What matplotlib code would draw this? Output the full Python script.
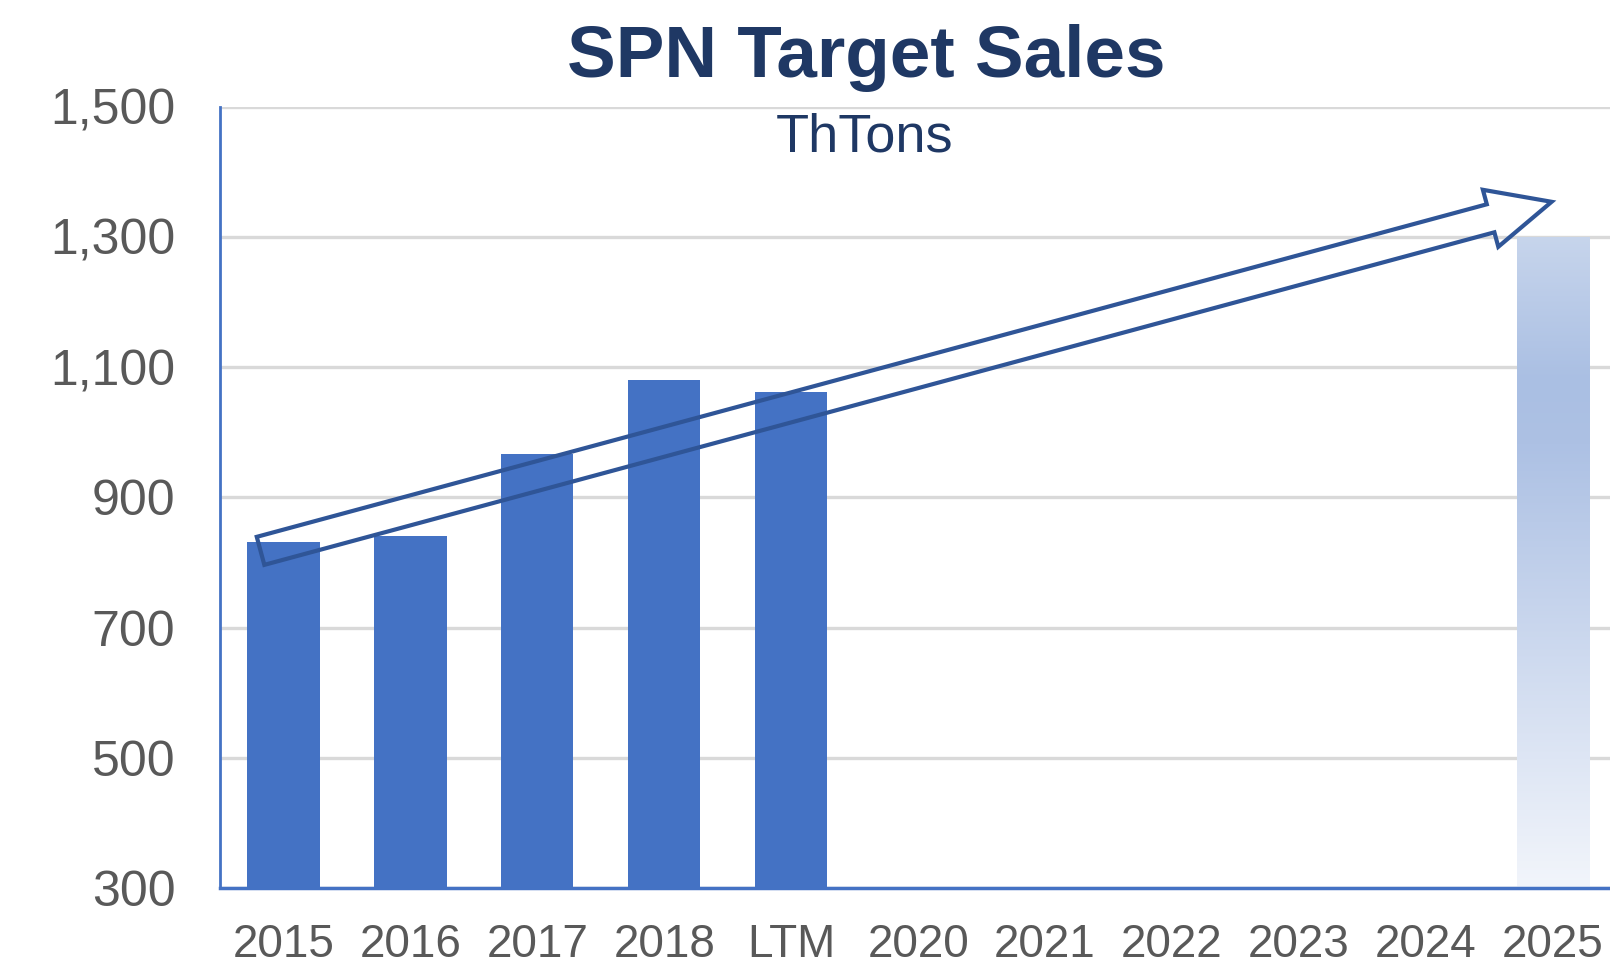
import numpy as np
import matplotlib
matplotlib.use("Agg")
import matplotlib.pyplot as plt
from matplotlib.colors import LinearSegmentedColormap
from matplotlib.patches import FancyArrowPatch, ArrowStyle

plt.rcParams['font.family'] = ['Liberation Sans', 'DejaVu Sans']

# data (ThTons)
categories = ["2015", "2016", "2017", "2018", "LTM", "2020", "2021", "2022", "2023", "2024", "2025"]
actual_values = [831, 841, 966, 1081, 1062]
target_category = "2025"
target_value = 1300
y_ticks = [300, 500, 700, 900, 1100, 1300, 1500]

# trend arrow end points (category index, value)
arrow_start = (-0.18, 818)
arrow_end = (9.99, 1354)

bar_blue = "#4472C4"
navy = "#1F3864"
arrow_blue = "#2F5597"
grid_grey = "#D9D9D9"
label_grey = "#595959"

fig = plt.figure(figsize=(16.1, 9.65), dpi=100)
ax = fig.add_axes([0.1366, 0.0796, 0.8634, 0.8098])

x = np.arange(len(categories))
bar_w = 0.57

ax.bar(x[:len(actual_values)], np.array(actual_values) - 300, bottom=300,
       width=bar_w, color=bar_blue, zorder=2)

# 2025 target bar with vertical gradient
ti = categories.index(target_category)
tbar = ax.bar([ti], [target_value - 300], bottom=300, width=bar_w,
              color="none", zorder=2)[0]
grad_cmap = LinearSegmentedColormap.from_list(
    "target", [(0.0, "#C7D5EC"), (0.22, "#AABFE3"), (0.32, "#ADC1E4"), (1.0, "#F2F5FB")])
grad = np.linspace(0, 1, 256).reshape(-1, 1)
im = ax.imshow(grad, cmap=grad_cmap, aspect="auto", origin="upper",
               extent=[ti - bar_w / 2, ti + bar_w / 2, 300, target_value],
               zorder=2, interpolation="bicubic")
im.set_clip_path(tbar)

# trend arrow (outline only)
style = ArrowStyle.Simple(head_length=45.5, head_width=42.5, tail_width=20.9)
arrow = FancyArrowPatch(arrow_start, arrow_end, arrowstyle=style, mutation_scale=1,
                        shrinkA=0, shrinkB=0, facecolor="none", edgecolor=arrow_blue,
                        lw=3.0, joinstyle="miter", zorder=4, clip_on=False)
ax.add_patch(arrow)

ax.set_xlim(-0.5, 10.45)
ax.set_ylim(300, 1500)
ax.set_xticks(x)
ax.set_xticklabels(categories)
ax.set_yticks(y_ticks)
ax.set_yticklabels([f"{v:,}" for v in y_ticks])
ax.tick_params(axis="x", length=0, pad=25, labelsize=33, labelcolor=label_grey)
ax.tick_params(axis="y", length=0, pad=32, labelsize=36, labelcolor=label_grey)

ax.grid(axis="y", color=grid_grey, lw=2.4, zorder=0)
ax.set_axisbelow(True)
for s in ["top", "right"]:
    ax.spines[s].set_visible(False)
ax.spines["left"].set_color(bar_blue)
ax.spines["left"].set_linewidth(2)
ax.spines["bottom"].set_color(bar_blue)
ax.spines["bottom"].set_linewidth(2.5)
ax.spines["bottom"].set_zorder(3)

fig.text(0.538, 0.920, "SPN Target Sales", ha="center", va="baseline",
         fontsize=52.5, fontweight="bold", color=navy)
fig.text(0.537, 0.8425, "ThTons", ha="center", va="baseline",
         fontsize=39, color=navy)

fig.savefig("out.png", dpi=100)
